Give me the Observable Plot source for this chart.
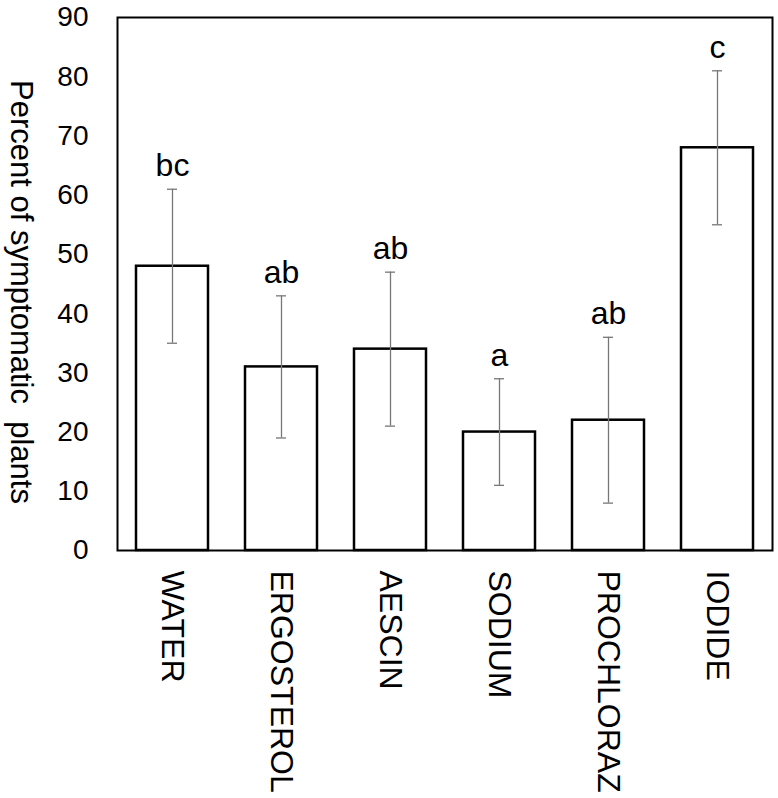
<!DOCTYPE html>
<html>
<head>
<meta charset="utf-8">
<script src="https://cdn.jsdelivr.net/npm/d3@7"></script>
<script src="https://cdn.jsdelivr.net/npm/@observablehq/plot@0.6"></script>
<style>
  html, body { margin: 0; padding: 0; background: #fff; }
  #chart svg { display: block; }
</style>
</head>
<body>
<div id="chart"></div>
<script>
const categories = ["WATER", "ERGOSTEROL", "AESCIN", "SODIUM", "PROCHLORAZ", "IODIDE"];
const means = [48, 31, 34, 20, 22, 68];
const errors = [13, 12, 13, 9, 14, 13];
const letters = ["bc", "ab", "ab", "a", "ab", "c"];
const yTicks = [0, 10, 20, 30, 40, 50, 60, 70, 80, 90];
const yLabel = "Percent of symptomatic\u00a0 plants";

const data = categories.map((c, i) => ({
  cat: c, mean: means[i], err: errors[i], letter: letters[i]
}));

const chart = Plot.plot({
  width: 778,
  height: 798,
  marginLeft: 117,
  marginRight: 6,
  marginTop: 17,
  marginBottom: 248,
  style: { fontFamily: "'Liberation Sans', Arial, sans-serif", background: "#fff", color: "#000" },
  x: { domain: categories, paddingInner: 0.343, paddingOuter: 0.17, axis: null },
  y: { domain: [0, 90], axis: null },
  marks: [
    Plot.barY(data, { x: "cat", y: "mean", fill: "white", stroke: "black", strokeWidth: 2.5 }),
    Plot.ruleX(data, { x: "cat", y1: d => d.mean - d.err, y2: d => d.mean + d.err, stroke: "#777", strokeWidth: 1.3 }),
    Plot.tickY(data, { x: "cat", y: d => d.mean - d.err, insetLeft: 31, insetRight: 31, stroke: "#777", strokeWidth: 1.3 }),
    Plot.tickY(data, { x: "cat", y: d => d.mean + d.err, insetLeft: 31, insetRight: 31, stroke: "#777", strokeWidth: 1.3 }),
    Plot.text(data, { x: "cat", y: d => d.mean + d.err, text: "letter", dy: -13, lineAnchor: "bottom", fontSize: 32, fill: "#000" }),
    Plot.frame({ stroke: "black", strokeWidth: 2 }),
    Plot.axisY(yTicks, { ticks: yTicks, tickSize: 0, tickPadding: 29, fontSize: 28, label: null, tickFormat: d => String(d) }),
    Plot.text(categories, { x: d => d, frameAnchor: "bottom", dy: 20, rotate: 90, textAnchor: "start", lineAnchor: "middle", fontSize: 32, fill: "#000" }),
    Plot.text([yLabel], { text: d => d, frameAnchor: "left", dx: -97, dy: 8, rotate: 90, textAnchor: "middle", lineAnchor: "middle", fontSize: 31, fill: "#000" })
  ]
});
document.getElementById("chart").appendChild(chart);
</script>
</body>
</html>
